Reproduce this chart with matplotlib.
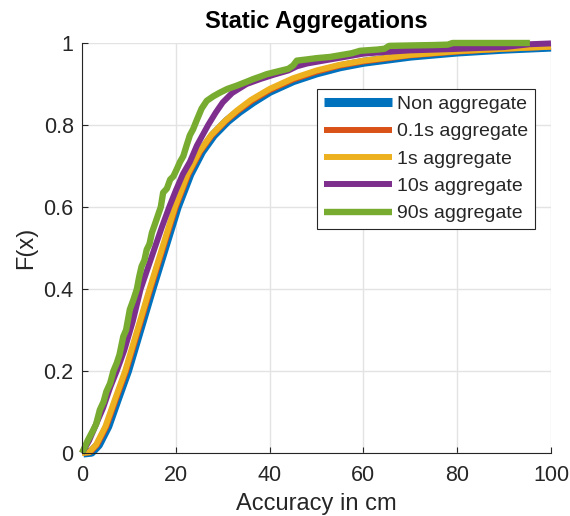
import matplotlib
matplotlib.use("Agg")
import matplotlib.pyplot as plt

# empirical CDFs of positioning error for each aggregation window
labels = ["Non aggregate", "0.1s aggregate", "1s aggregate", "10s aggregate", "90s aggregate"]
colors = ["#0072BD", "#D95319", "#EDB120", "#7E2F8E", "#77AC30"]

non_x = [0.3, 2.0, 3.5, 5.5, 7.5, 9.7, 12.3, 14.9, 17.6, 20.3, 23.0, 25.5, 28.0, 31.0,
         33.5, 36.5, 40, 45, 50, 55, 60, 70, 80, 90, 100]
non_F = [0, 0.002, 0.02, 0.065, 0.13, 0.2, 0.3, 0.4, 0.5, 0.6, 0.68, 0.735, 0.775, 0.81,
         0.833, 0.857, 0.882, 0.908, 0.927, 0.942, 0.953, 0.968, 0.978, 0.985, 0.99]

agg01_x = [0.1, 1.7, 3.2, 5.2, 7.2, 9.4, 12.0, 14.6, 17.3, 20.0, 22.7, 25.2, 27.7, 30.7,
           33.2, 36.2, 40, 45, 50, 55, 60, 70, 80, 90, 100]
agg01_F = [0, 0.002, 0.02, 0.065, 0.13, 0.2, 0.3, 0.4, 0.5, 0.6, 0.68, 0.735, 0.775, 0.81,
           0.834, 0.859, 0.885, 0.911, 0.93, 0.945, 0.955, 0.97, 0.979, 0.986, 0.991]

agg1_x = [0, 1.5, 3, 5, 7, 9.2, 11.8, 14.4, 17.1, 19.8, 22.5, 25, 27.5, 30.5,
          33, 36, 40, 45, 50, 55, 60, 70, 80, 90, 100]
agg1_F = [0, 0.002, 0.02, 0.065, 0.13, 0.2, 0.3, 0.4, 0.5, 0.6, 0.68, 0.735, 0.775, 0.81,
          0.835, 0.861, 0.888, 0.914, 0.933, 0.947, 0.957, 0.971, 0.98, 0.986, 0.991]

agg10_x = [0, 0.5, 1.5, 3, 4.5, 6, 7.4, 9, 10.8, 12.5, 14, 15.5, 17, 18.6, 20, 21.5, 23,
           24.5, 26.9, 28.5, 30, 32, 35.1, 38, 41, 44, 45.8, 48, 52, 56, 60, 65.7, 70,
           78.5, 85, 90, 95.5, 100]
agg10_F = [0, 0.01, 0.03, 0.07, 0.11, 0.16, 0.2, 0.25, 0.32, 0.4, 0.45, 0.5, 0.55, 0.6,
           0.64, 0.68, 0.71, 0.75, 0.8, 0.83, 0.855, 0.878, 0.9, 0.912, 0.923, 0.933,
           0.943, 0.95, 0.958, 0.966, 0.974, 0.979, 0.982, 0.985, 0.988, 0.99, 0.997, 0.999]

agg90_x = [0, 0.3, 1.2, 2.4, 3.0, 3.8, 4.6, 5.2, 6.0, 6.7, 7.4, 8.0, 8.8, 9.4, 10.2, 11.0,
           11.7, 12.2, 12.7, 13.3, 13.8, 14.4, 14.9, 15.6, 16.2, 16.8, 17.3, 18.1, 18.8,
           19.5, 20.2, 20.9, 21.6, 22.3, 23.0, 23.7, 24.4, 25.5, 26.6, 28.0, 29.4, 31.0,
           33.0, 35.0, 36.5, 38.0, 39.4, 42.2, 44.0, 45.0, 45.8, 48.0, 50.0, 52.9, 56.0,
           57.5, 59.3, 63.0, 64.5, 65.5, 70.0, 75.0, 78.0, 79.0, 85.0, 90.0, 95.5]
agg90_F = [0, 0.007, 0.03, 0.056, 0.07, 0.105, 0.125, 0.15, 0.17, 0.2, 0.219, 0.24, 0.284,
           0.3, 0.35, 0.375, 0.4, 0.43, 0.455, 0.47, 0.496, 0.51, 0.537, 0.56, 0.58, 0.6,
           0.635, 0.645, 0.667, 0.675, 0.692, 0.71, 0.724, 0.75, 0.775, 0.79, 0.81, 0.84,
           0.859, 0.87, 0.879, 0.888, 0.896, 0.905, 0.912, 0.918, 0.924, 0.932, 0.937,
           0.945, 0.957, 0.96, 0.963, 0.966, 0.972, 0.975, 0.981, 0.984, 0.986, 0.993,
           0.994, 0.995, 0.996, 1.0, 1.0, 1.0, 1.0]

series = [(non_x, non_F), (agg01_x, agg01_F), (agg1_x, agg1_F),
          (agg10_x, agg10_F), (agg90_x, agg90_F)]
widths = [6.5, 4.3, 4.3, 4.3, 4.6]

plt.rcParams["font.family"] = ["Liberation Sans", "DejaVu Sans"]
dark = "#262626"

fig = plt.figure(figsize=(5.7, 5.16), dpi=100)
ax = fig.add_axes([82 / 570, 1 - 453 / 516, (551 - 82) / 570, (453 - 43) / 516])

for (x, F), lab, c, lw in zip(series, labels, colors, widths):
    ax.plot(x, F, color=c, lw=lw, label=lab, clip_on=False, solid_capstyle="butt")

ax.set_xlim(0, 100)
ax.set_ylim(0, 1)
ax.set_xticks([0, 20, 40, 60, 80, 100])
ax.set_yticks([0, 0.2, 0.4, 0.6, 0.8, 1])
ax.set_yticklabels(["0", "0.2", "0.4", "0.6", "0.8", "1"])
ax.grid(True, color="#e3e3e3", lw=1.0)
ax.set_axisbelow(True)
for s in ["top", "right"]:
    ax.spines[s].set_visible(False)
for s in ["left", "bottom"]:
    ax.spines[s].set_color(dark)
    ax.spines[s].set_linewidth(0.8)
ax.tick_params(direction="in", length=4, width=0.8, colors=dark, labelsize=15.5)
ax.tick_params(axis="x", pad=8.5)
ax.tick_params(axis="y", pad=6)

ax.set_xlabel("Accuracy in cm", fontsize=17, color=dark, labelpad=5)
ax.set_ylabel("F(x)", fontsize=17, color=dark, labelpad=4.5)
ax.set_title("Static Aggregations", fontsize=17, fontweight="bold", pad=10.5)

leg = ax.legend(loc="upper right", bbox_to_anchor=(535 / 570, 1 - 89 / 516),
                bbox_transform=fig.transFigure, borderaxespad=0, fontsize=14,
                handlelength=3.5, handletextpad=0.3, labelspacing=0.5,
                borderpad=0.33, fancybox=False, framealpha=1)
leg.get_frame().set_edgecolor(dark)
leg.get_frame().set_linewidth(0.8)
for t in leg.get_texts():
    t.set_color(dark)

fig.savefig("out.png", dpi=100)
